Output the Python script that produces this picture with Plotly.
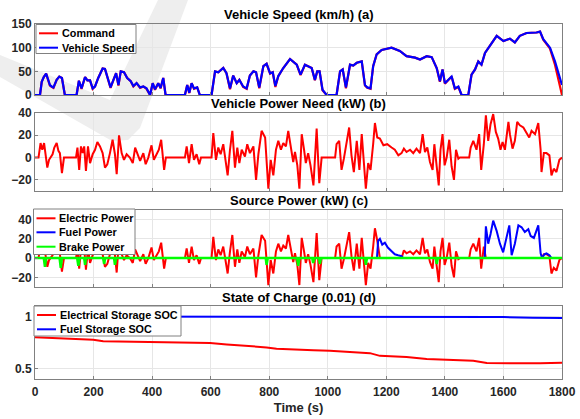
import plotly.graph_objects as go
from plotly.subplots import make_subplots

# ---------------- data ----------------
speed_t = [0, 17, 23, 30, 38, 45, 51, 57, 63, 74,
           83, 92, 97, 102, 142, 150, 159, 171, 179, 188,
           197, 205, 216, 231, 239, 247, 258, 268, 277, 285,
           293, 304, 315, 327, 336, 347, 359, 370, 381, 393,
           402, 410, 421, 429, 438, 446, 512, 520, 527, 535,
           543, 554, 563, 603, 615, 626, 643, 654, 666, 677,
           689, 698, 711, 723, 734, 746, 755, 766, 780, 791,
           803, 812, 821, 831, 848, 871, 882, 894, 907, 922,
           945, 956, 964, 972, 982, 996, 1030, 1042, 1051, 1062,
           1076, 1087, 1099, 1116, 1127, 1135, 1146, 1155, 1167, 1184,
           1218, 1246, 1269, 1298, 1315, 1338, 1355, 1372, 1383, 1392,
           1400, 1412, 1423, 1434, 1446, 1457, 1480, 1491, 1503, 1514,
           1525, 1537, 1554, 1577, 1600, 1622, 1639, 1656, 1679, 1713,
           1725, 1736, 1759, 1776, 1800]
vehicle_speed = [0, 0, 28, 38, 45, 32, 21, 18, 16, 32,
                 39, 36, 20, 0, 0, 30, 14, 38, 31, 31,
                 14, 18, 36, 56, 55, 39, 16, 32, 46, 21,
                 50, 48, 36, 29, 19, 25, 16, 18, 14, 0,
                 25, 12, 25, 15, 36, 0, 0, 21, 5, 25,
                 14, 16, 0, 0, 50, 48, 57, 46, 14, 41,
                 25, 32, 18, 14, 41, 50, 48, 16, 61, 66,
                 46, 48, 19, 40, 57, 76, 71, 64, 43, 64,
                 57, 32, 50, 50, 11, 0, 0, 50, 54, 16,
                 64, 62, 68, 71, 21, 16, 14, 61, 86, 95,
                 100, 93, 82, 79, 75, 82, 80, 57, 29, 54,
                 25, 32, 39, 14, 18, 0, 0, 43, 54, 71,
                 64, 89, 104, 125, 114, 119, 111, 125, 131, 132,
                 134, 118, 100, 71, 21]
command_speed = [0, 0, 28, 38, 45, 31, 20, 17, 15, 32,
                 39, 36, 19, 0, 0, 30, 13, 38, 31, 31,
                 13, 18, 36, 56, 55, 39, 15, 32, 46, 20,
                 50, 48, 36, 29, 18, 25, 15, 18, 13, 0,
                 25, 11, 25, 14, 36, 0, 0, 21, 4, 25,
                 13, 16, 0, 0, 50, 48, 57, 46, 12, 41,
                 25, 32, 17, 13, 41, 50, 48, 14, 61, 66,
                 45, 48, 17, 40, 57, 76, 71, 64, 42, 64,
                 57, 31, 50, 50, 10, 0, 0, 50, 54, 14,
                 64, 62, 68, 71, 20, 15, 13, 61, 86, 95,
                 100, 93, 82, 79, 75, 82, 80, 57, 28, 54,
                 24, 32, 39, 13, 17, 0, 0, 43, 54, 71,
                 64, 89, 104, 125, 114, 119, 111, 125, 131, 132,
                 134, 117, 98, 64, 0]

need_t = [0, 12, 19, 25, 31, 36, 42, 48, 54, 60,
          66, 74, 80, 85, 92, 99, 140, 145, 151, 157,
          163, 168, 174, 181, 188, 197, 205, 213, 222, 231,
          239, 247, 256, 265, 273, 279, 287, 296, 304, 313,
          324, 334, 342, 351, 359, 370, 378, 387, 398, 406,
          416, 423, 431, 441, 447, 512, 518, 526, 535, 543,
          552, 561, 567, 603, 609, 618, 626, 634, 643, 651,
          658, 666, 674, 683, 691, 698, 706, 717, 725, 734,
          746, 755, 763, 774, 786, 797, 805, 814, 823, 831,
          840, 848, 857, 865, 873, 882, 888, 896, 903, 911,
          919, 925, 933, 941, 951, 962, 971, 979, 1025, 1030,
          1039, 1047, 1055, 1064, 1073, 1081, 1089, 1099, 1108, 1116,
          1124, 1130, 1138, 1146, 1155, 1161, 1169, 1178, 1190, 1203,
          1218, 1229, 1241, 1252, 1260, 1269, 1281, 1292, 1303, 1315,
          1324, 1332, 1340, 1349, 1358, 1364, 1372, 1379, 1385, 1392,
          1399, 1406, 1415, 1423, 1431, 1438, 1446, 1451, 1483, 1488,
          1497, 1508, 1517, 1524, 1533, 1540, 1548, 1556, 1565, 1574,
          1582, 1590, 1597, 1605, 1617, 1622, 1631, 1639, 1647, 1656,
          1668, 1677, 1688, 1696, 1708, 1719, 1727, 1730, 1738, 1747,
          1757, 1764, 1772, 1781, 1791, 1800]
power_need = [0, 0, 13, 7, 13, 4, -9, -2, 0, 3,
              9, 13, 6, 4, -14, 0, 0, 9, -11, 10,
              4, 10, -12, 10, -5, 3, 7, 14, 10, 4,
              -9, -6, 4, 16, 3, -15, 20, 4, -2, 3,
              0, -5, 9, 3, -3, 4, -6, 0, 11, -2,
              3, 7, 16, -11, 0, 0, 10, -5, 12, -2,
              3, -6, 0, 0, 22, -2, 9, 3, 12, -5,
              -16, 7, 24, -9, 9, -5, 7, 1, 12, 4,
              10, -20, 3, 24, 18, -28, -2, -16, 7, 15,
              7, 13, 10, 24, 10, -4, 5, -7, -28, 21,
              7, -5, 4, -7, -25, 26, -23, 0, 0, 12,
              15, -11, -1, 14, 27, 2, -13, 15, -11, 21,
              -8, -28, -5, -11, 12, 31, 18, 17, 11, 12,
              9, 7, 2, 4, 8, 5, 7, 4, 8, 4,
              21, 5, 9, -4, -11, 12, -8, -25, 7, 21,
              -7, 0, 16, -8, -20, 7, -1, 0, 0, 9,
              15, 7, 21, -11, 12, 38, 15, 30, 39, 23,
              17, 7, 14, 7, 32, 21, 8, 15, 32, 29,
              27, 23, 18, 24, 21, 31, 7, -13, 4, 4,
              2, -16, -10, -13, -2, 0]

# periods in which the fuel source supplies the power (electric power is 0 there)
fuel_windows = [(1170, 1258), (1536, 1731)]

fuel_t = [0, 1168, 1172, 1178, 1186, 1195, 1205, 1218, 1229, 1240,
          1252, 1258, 1536, 1540, 1548, 1556, 1565, 1577, 1588, 1599,
          1611, 1620, 1628, 1639, 1651, 1662, 1673, 1685, 1693, 1704,
          1719, 1727, 1732, 1740, 1747, 1757, 1764, 1768, 1800]
fuel_power = [0, 0, 18, 20, 14, 16, 11, 7, 4, 3,
              2, 0, 0, 33, 15, 25, 39, 28, 15, 6,
              22, 34, 3, 15, 34, 32, 27, 30, 23, 21,
              34, 5, 0, 4, 5, 3, 0, 0, 0]

brake_t = [0, 30, 34, 38, 84, 88, 92, 144, 148, 152,
           168, 171, 174, 233, 236, 240, 270, 273, 277, 788,
           791, 795, 895, 899, 903, 947, 950, 954, 970, 973,
           977, 1127, 1130, 1134, 1369, 1372, 1376, 1800]
brake_power = [0, 0, -9, 0, 0, -10, 0, 0, -8, 0,
               0, -7, 0, 0, -6, 0, 0, -7, 0, 0,
               -7, 0, 0, -8, 0, 0, -5, 0, 0, -6,
               0, 0, -7, 0, 0, -6, 0, 0]

soc_t = [0, 108, 199, 233, 302, 393, 507, 598, 655, 746,
         791, 825, 871, 951, 1007, 1064, 1144, 1178, 1269, 1338,
         1406, 1497, 1543, 1634, 1725, 1800]
soc_electric = [0.80, 0.785, 0.777, 0.762, 0.758, 0.752, 0.750, 0.745, 0.732, 0.714,
                0.703, 0.69, 0.683, 0.676, 0.670, 0.660, 0.648, 0.622, 0.612, 0.592,
                0.584, 0.574, 0.553, 0.550, 0.551, 0.556]
soc_fuel_t = [0, 1500, 1600, 1700, 1800]
soc_fuel = [1.0, 1.0, 0.994, 0.988, 0.985]

titles = ["Vehicle Speed (km/h) (a)", "Vehicle Power Need (kW) (b)",
          "Source Power (kW) (c)", "State of Charge (0.01) (d)"]
x_ticks = [0, 200, 400, 600, 800, 1000, 1200, 1400, 1600, 1800]

electric_power = [0 if any(a <= t <= b for a, b in fuel_windows) else p
                  for t, p in zip(need_t, power_need)]

# ---------------- figure ----------------
RED, BLUE, GREEN = "#ff0000", "#0000ff", "#00ff00"
FONT = "Liberation Sans"
fig = make_subplots(rows=4, cols=1, shared_xaxes=True)

series = [
    (1, speed_t, command_speed, "Command", RED, 2.2),
    (1, speed_t, vehicle_speed, "Vehicle Speed", BLUE, 2.2),
    (2, need_t, power_need, "Vehicle Power Need", RED, 2.0),
    (3, need_t, electric_power, "Electric Power", RED, 2.0),
    (3, fuel_t, fuel_power, "Fuel Power", BLUE, 2.0),
    (3, brake_t, brake_power, "Brake Power", GREEN, 2.5),
    (4, soc_t, soc_electric, "Electrical Storage SOC", RED, 2.0),
    (4, soc_fuel_t, soc_fuel, "Fuel Storage SOC", BLUE, 2.0),
]
for row, xs, ys, name, color, w in series:
    fig.add_trace(go.Scatter(x=xs, y=ys, mode="lines", name=name,
                             line=dict(color=color, width=w), showlegend=False),
                  row, 1)

tickfont = dict(family=FONT, size=12, color="#262626", weight="bold")
axis_common = dict(showline=True, mirror=True, linecolor="#808080", linewidth=1,
                   showgrid=True, gridcolor="#e6e6e6", gridwidth=1,
                   ticks="inside", ticklen=3, tickcolor="#808080",
                   zeroline=False, tickfont=tickfont, automargin=False)

domains = [[0.80, 1.0], [0.5296, 0.7493], [0.2592, 0.4761], [0.0, 0.2056]]
yranges = [[0, 150], [-30, 40], [-30, 50], [0.4, 1.1]]
ytickvals = [[0, 50, 100, 150], [-20, 0, 20, 40], [-20, 0, 20, 40], [0.5, 1]]

for i in range(4):
    fig.update_yaxes(row=i + 1, col=1, domain=domains[i], range=yranges[i],
                     tickvals=ytickvals[i], **axis_common)
    fig.update_xaxes(row=i + 1, col=1, range=[0, 1800], tickvals=x_ticks,
                     showticklabels=(i == 3), **axis_common)

fig.update_xaxes(row=4, col=1, ticklabelstandoff=2,
                 title=dict(text="Time (s)", standoff=4,
                            font=dict(family=FONT, size=13, color="#262626", weight="bold")))

# ---------------- layout helpers (pixel -> paper) ----------------
L, R, T, B = 35, 18, 24, 40
W, H = 580, 419
PW, PH = W - L - R, H - T - B
def px(x):
    return (x - L) / PW
def py(y):
    return (H - B - y) / PH

title_y = [14, 103, 200, 297]
for txt, ty in zip(titles, title_y):
    fig.add_annotation(text=txt, xref="paper", yref="paper", x=0.5, y=py(ty),
                       xanchor="center", yanchor="middle", showarrow=False,
                       font=dict(family=FONT, size=13, color="#000000", weight="bold"))

# compact MATLAB-style legend boxes (one per panel that has a legend)
legend_boxes = [
    (36, 24.5, 136, 53.5, [33.3, 47.7], ["Command", "Vehicle Speed"], [RED, BLUE]),
    (33.5, 209, 135, 254.5, [218.3, 232.3, 246.7],
     ["Electric Power", "Fuel Power", "Brake Power"], [RED, BLUE, GREEN]),
    (34, 306, 181, 336, [315, 329.3],
     ["Electrical Storage SOC", "Fuel Storage SOC"], [RED, BLUE]),
]
for x0, y0, x1, y1, rows, names, colors in legend_boxes:
    fig.add_shape(type="rect", xref="paper", yref="paper",
                  x0=px(x0), x1=px(x1), y0=py(y0), y1=py(y1),
                  fillcolor="#ffffff", line=dict(color="#808080", width=1), layer="above")
    for yy, name, color in zip(rows, names, colors):
        fig.add_shape(type="line", xref="paper", yref="paper",
                      x0=px(x0 + 3), x1=px(x0 + 22), y0=py(yy), y1=py(yy),
                      line=dict(color=color, width=2), layer="above")
        fig.add_annotation(text=name, xref="paper", yref="paper",
                           x=px(x0 + 23.5), y=py(yy), xanchor="left", yanchor="middle",
                           showarrow=False,
                           font=dict(family=FONT, size=10.8, color="#000000", weight="bold"))

# faint watermark (check-mark shape) in the background
wm = [(0, 55), (110, 100), (158, 0), (188, 0), (140, 128), (128, 140), (112, 141), (0, 77)]
path = "M " + " L ".join("%.4f %.4f" % (px(a), py(b)) for a, b in wm) + " Z"
fig.add_shape(type="path", path=path, xref="paper", yref="paper",
              fillcolor="#eeeeee", line=dict(width=0), layer="below")

fig.update_layout(
    width=W, height=H,
    margin=dict(l=L, r=R, t=T, b=B),
    paper_bgcolor="#ffffff", plot_bgcolor="rgba(0,0,0,0)",
    showlegend=False,
    font=dict(family=FONT),
)

fig.write_html("out.html", config={"displayModeBar": False})
# remove the browser's default page margin so the figure sits at (0, 0)
with open("out.html", encoding="utf-8") as f:
    html = f.read()
html = html.replace("<head>", "<head><style>html,body{margin:0;padding:0;}</style>", 1)
with open("out.html", "w", encoding="utf-8") as f:
    f.write(html)
